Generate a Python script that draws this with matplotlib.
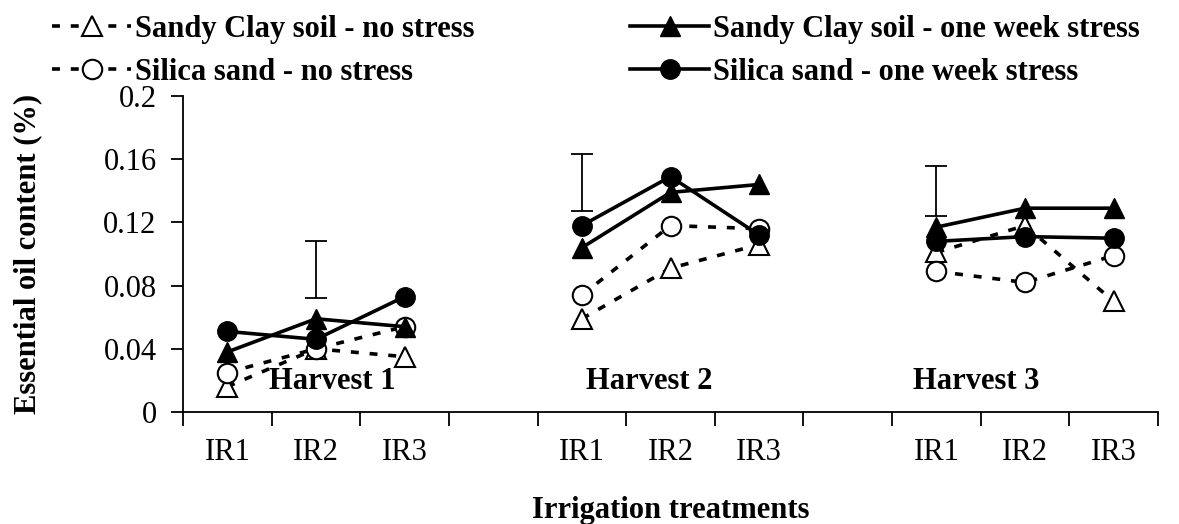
import numpy as np
import matplotlib
matplotlib.use("Agg")
import matplotlib.pyplot as plt

# essential oil content (%) per harvest, IR1..IR3
harvests = ["Harvest 1", "Harvest 2", "Harvest 3"]
treatments = ["IR1", "IR2", "IR3"]

sandy_no = [[0.016, 0.040, 0.035], [0.059, 0.091, 0.106], [0.101, 0.118, 0.070]]
silica_no = [[0.025, 0.040, 0.054], [0.074, 0.118, 0.116], [0.089, 0.082, 0.099]]
sandy_st = [[0.038, 0.059, 0.054], [0.104, 0.139, 0.144], [0.117, 0.129, 0.129]]
silica_st = [[0.051, 0.046, 0.073], [0.118, 0.149, 0.112], [0.108, 0.111, 0.110]]

# LSD bars (bottom, top), drawn at IR2 of harvest 1 and IR1 of harvests 2, 3
lsd_pos = [(0, 1), (1, 0), (2, 0)]
lsd_low = [0.072, 0.127, 0.124]
lsd_high = [0.108, 0.163, 0.156]

plt.rcParams['font.family'] = ['Liberation Serif', 'DejaVu Serif']
fs = 22

fig = plt.figure(figsize=(11.79, 5.24), dpi=100)
ax = fig.add_axes([183/1179, 1-412/524, 975/1179, 316/524])

gap = 4  # each harvest uses 3 slots + 1 empty slot
def xs(h):
    return np.arange(3) + h*gap

lw = 2.6
dash = (0, (2.2, 3.0))
series = [
    (sandy_no, dict(ls=dash, marker='^', mfc='white', mec='black', ms=15, mew=1.5), "Sandy Clay soil - no stress"),
    (silica_no, dict(ls=dash, marker='o', mfc='white', mec='black', ms=14, mew=1.5), "Silica sand - no stress"),
    (sandy_st, dict(ls='-', marker='^', mfc='black', mec='black', ms=15), "Sandy Clay soil - one week stress"),
    (silica_st, dict(ls='-', marker='o', mfc='black', mec='black', ms=14), "Silica sand - one week stress"),
]

handles = []
for vals, st, lab in series:
    for h in range(3):
        ln, = ax.plot(xs(h), vals[h], color='black', lw=lw, **st)
    handles.append(ln)

for (h, i), lo, hi in zip(lsd_pos, lsd_low, lsd_high):
    x = h*gap + i
    ax.errorbar([x], [(lo+hi)/2], yerr=[(hi-lo)/2], fmt='none', ecolor='black',
                elinewidth=1.3, capsize=8, capthick=1.3)

hx = [1.19, 4.76, 8.45]
for h in range(3):
    ax.text(hx[h], 0.019, harvests[h], ha='center', va='center',
            fontsize=fs, fontweight='bold')

ax.set_xlim(-0.5, 10.5)
ax.set_ylim(0, 0.2)
ax.set_xticks(np.arange(-0.5, 11, 1))
ax.set_xticklabels([])
ax.set_xticks([h*gap + i for h in range(3) for i in range(3)], minor=True)
ax.set_xticklabels(treatments*3, minor=True, fontsize=fs)
ax.tick_params(axis='x', which='major', direction='out', length=10, width=1.3)
ax.tick_params(axis='x', which='minor', length=0, pad=19)
yt = [0, 0.04, 0.08, 0.12, 0.16, 0.2]
ax.set_yticks(yt)
ax.set_yticklabels(["0", "0.04", "0.08", "0.12", "0.16", "0.2"], fontsize=fs)
ax.tick_params(axis='y', direction='out', length=9, width=1.3, pad=10)
for s in ['top', 'right']:
    ax.spines[s].set_visible(False)
for s in ['left', 'bottom']:
    ax.spines[s].set_linewidth(1.3)

ax.set_ylabel("Essential oil content (%)", fontsize=fs, fontweight='bold')
ax.yaxis.set_label_coords(-0.144, 0.5)
ax.set_xlabel("Irrigation treatments", fontsize=fs, fontweight='bold')
ax.xaxis.set_label_coords(0.5, -0.265)

leg_kw = dict(frameon=False, handlelength=2.6, handletextpad=0.12,
              labelspacing=0.45, borderpad=0, borderaxespad=0,
              prop=dict(weight='bold', size=fs))
fig.legend(handles[:2], [s[2] for s in series[:2]], loc='upper left',
           bbox_to_anchor=(52/1179, 1-15/524), **leg_kw)
fig.legend(handles[2:], [s[2] for s in series[2:]], loc='upper left',
           bbox_to_anchor=(630/1179, 1-15/524), **leg_kw)

fig.savefig("out.png", dpi=100)
